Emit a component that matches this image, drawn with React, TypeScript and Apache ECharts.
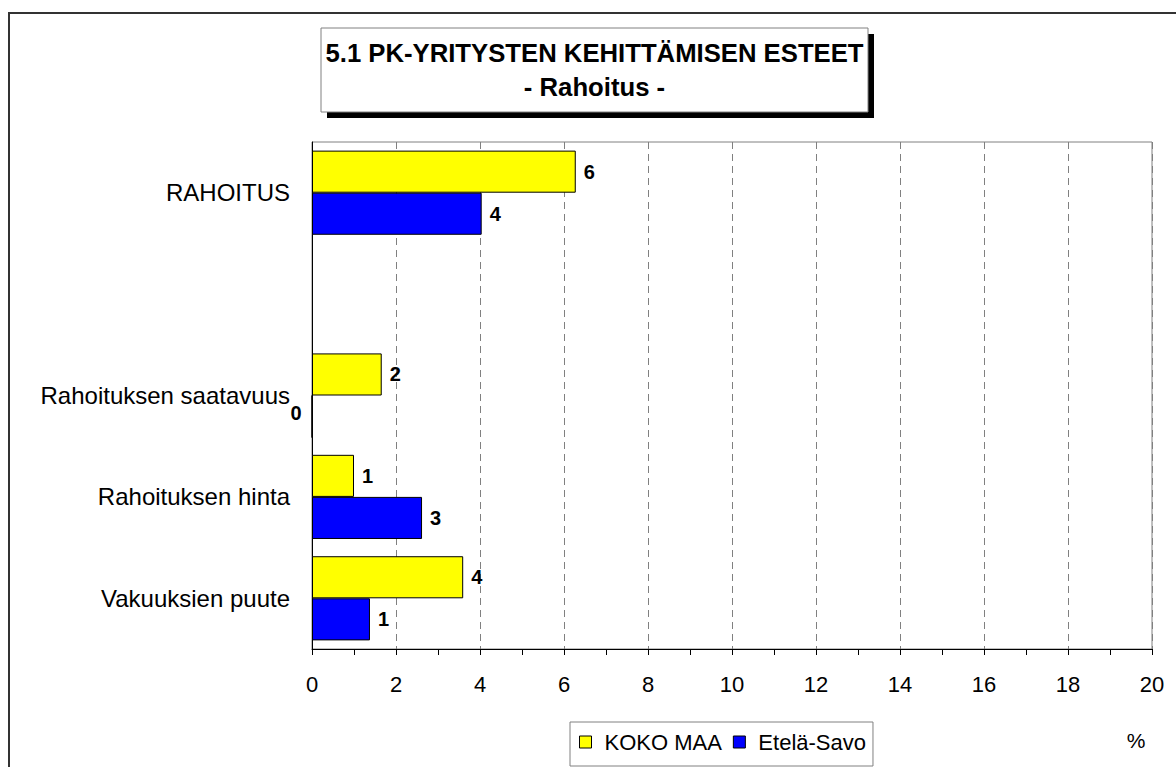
import React, { useEffect, useRef } from "react";
import * as echarts from "echarts";

const categories = ["RAHOITUS", "", "Rahoituksen saatavuus", "Rahoituksen hinta", "Vakuuksien puute"];
const seriesNames = ["KOKO MAA", "Etelä-Savo"];
const kokoMaa: (number | null)[] = [6.28, null, 1.66, 1.0, 3.6];
const etelaSavo: (number | null)[] = [4.04, null, 0, 2.62, 1.38];
const xTicks = { min: 0, max: 20, interval: 2 };
const titleLines = ["5.1 PK-YRITYSTEN KEHITTÄMISEN ESTEET", "- Rahoitus -"];
const unitLabel = "%";

const FONT = "'Liberation Sans', Arial, sans-serif";

function toData(values: (number | null)[]) {
  return values.map((v) =>
    v === 0
      ? { value: v, label: { position: "left", distance: 10, offset: [0, -4] } }
      : v
  );
}

export default function App() {
  const ref = useRef<HTMLDivElement>(null);
  useEffect(() => {
    if (!ref.current) return;
    const chart = echarts.init(ref.current, null, { renderer: "svg" });
    const labelCfg = {
      show: true,
      position: "right",
      distance: 8,
      color: "#000",
      fontFamily: FONT,
      fontWeight: "bold",
      fontSize: 20,
      formatter: (p: any) => (p.value == null ? "" : String(Math.round(p.value))),
    };
    chart.setOption({
      animation: false,
      backgroundColor: "#fff",
      textStyle: { fontFamily: FONT, color: "#000" },
      grid: {
        left: 312,
        top: 142,
        right: 24,
        bottom: 118,
        show: true,
        borderColor: "#808080",
        borderWidth: 1,
        backgroundColor: "transparent",
      },
      xAxis: {
        type: "value",
        min: xTicks.min,
        max: xTicks.max,
        interval: xTicks.interval,
        axisLine: { show: true, lineStyle: { color: "#000", width: 1 } },
        axisTick: { show: true, length: 6, lineStyle: { color: "#000" } },
        minorTick: { show: true, splitNumber: 2, length: 6, lineStyle: { color: "#000" } },
        splitLine: { show: true, lineStyle: { color: "#808080", type: [7, 5], width: 1 } },
        axisLabel: { color: "#000", fontSize: 22, fontFamily: FONT, margin: 24 },
      },
      yAxis: {
        type: "category",
        data: categories,
        inverse: true,
        axisLine: { show: true, lineStyle: { color: "#000", width: 1 } },
        axisTick: { show: false },
        axisLabel: { color: "#000", fontSize: 24, fontFamily: FONT, margin: 22, interval: 0 },
      },
      legend: {
        data: seriesNames,
        left: 570,
        top: 722,
        orient: "horizontal",
        icon: "rect",
        itemWidth: 12,
        itemHeight: 12,
        itemGap: 11,
        padding: [9, 7, 13, 9],
        borderColor: "#808080",
        borderWidth: 1,
        backgroundColor: "#fff",
        textStyle: { fontSize: 22, fontFamily: FONT, color: "#000", padding: [0, 0, 0, 8] },
        itemStyle: { borderColor: "#000", borderWidth: 1 },
      },
      series: [
        {
          name: seriesNames[0],
          type: "bar",
          data: toData(kokoMaa),
          barGap: "0%",
          barCategoryGap: "17%",
          itemStyle: { color: "#ffff00", borderColor: "#000", borderWidth: 1 },
          label: labelCfg,
        },
        {
          name: seriesNames[1],
          type: "bar",
          data: toData(etelaSavo),
          barGap: "0%",
          barCategoryGap: "17%",
          itemStyle: { color: "#0000ff", borderColor: "#000", borderWidth: 1 },
          label: labelCfg,
        },
      ],
      graphic: [
        {
          type: "polyline",
          shape: { points: [[9, 767], [9, 13], [1176, 13]] },
          style: { stroke: "#333", lineWidth: 2, fill: "none" },
          z: 0,
        },
        {
          type: "rect",
          shape: { x: 327, y: 34, width: 547, height: 84 },
          style: { fill: "#000" },
          z: 10,
        },
        {
          type: "rect",
          shape: { x: 321, y: 28, width: 547, height: 84 },
          style: { fill: "#fff", stroke: "#808080", lineWidth: 1 },
          z: 11,
        },
        {
          type: "text",
          x: 594.5,
          y: 53,
          style: {
            text: titleLines[0],
            fontFamily: FONT,
            fontWeight: "bold",
            fontSize: 25.7,
            fill: "#000",
            align: "center",
            verticalAlign: "middle",
          },
          z: 12,
        },
        {
          type: "text",
          x: 594.5,
          y: 87,
          style: {
            text: titleLines[1],
            fontFamily: FONT,
            fontWeight: "bold",
            fontSize: 25.7,
            fill: "#000",
            align: "center",
            verticalAlign: "middle",
          },
          z: 12,
        },
        {
          type: "text",
          x: 1136,
          y: 740,
          style: {
            text: unitLabel,
            fontFamily: FONT,
            fontSize: 21,
            fill: "#000",
            align: "center",
            verticalAlign: "middle",
          },
          z: 12,
        },
      ],
    });
    return () => chart.dispose();
  }, []);
  return (
    <div
      ref={ref}
      style={{ position: "fixed", left: 0, top: 0, width: 1176, height: 767 }}
    />
  );
}
